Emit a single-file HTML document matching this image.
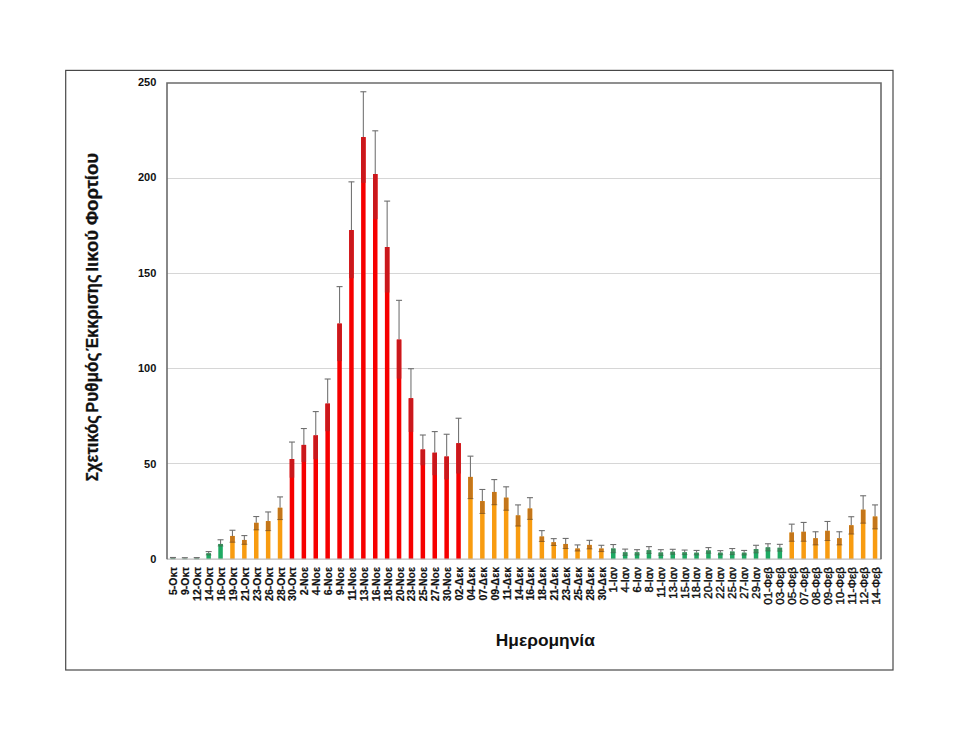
<!DOCTYPE html>
<html><head><meta charset="utf-8"><title>chart</title>
<style>
html,body{margin:0;padding:0;background:#fff;}
body{width:960px;height:742px;position:relative;overflow:hidden;font-family:"Liberation Sans",sans-serif;}
text{font-family:"Liberation Sans",sans-serif;fill:#111;}
.yt{font-size:11px;font-weight:bold;}
.xl{font-size:10.5px;font-weight:bold;stroke:#111;stroke-width:0.2px;}
.ian{font-size:11.3px;font-weight:normal;stroke:#111;stroke-width:0.45px;}
.feb{font-size:11px;font-weight:normal;stroke:#111;stroke-width:0.4px;}
.ytitle{font-size:17.5px;font-weight:bold;stroke:#111;stroke-width:0.3px;}
.cap{font-size:16.2px;}
.xtitle{font-size:16.6px;font-weight:bold;}
</style></head><body>
<svg width="960" height="742" viewBox="0 0 960 742" style="position:absolute;left:0;top:0">
<rect x="0" y="0" width="960" height="742" fill="#fff"/>
<rect x="65.7" y="70.4" width="827.3" height="599.6" fill="none" stroke="#484848" stroke-width="1.2"/>
<line x1="167.0" x2="881.0" y1="463.50" y2="463.50" stroke="#d6d6d6" stroke-width="1"/>
<line x1="167.0" x2="881.0" y1="368.50" y2="368.50" stroke="#d6d6d6" stroke-width="1"/>
<line x1="167.0" x2="881.0" y1="273.50" y2="273.50" stroke="#d6d6d6" stroke-width="1"/>
<line x1="167.0" x2="881.0" y1="178.50" y2="178.50" stroke="#d6d6d6" stroke-width="1"/>
<rect x="170.70" y="558.25" width="4.50" height="0.95" fill="#1faa63"/>
<rect x="170.70" y="558.25" width="4.50" height="0.57" fill="#3c8a5a"/>
<line x1="172.95" x2="172.95" y1="557.49" y2="558.25" stroke="#757575" stroke-width="1.1"/>
<line x1="169.95" x2="175.95" y1="557.49" y2="557.49" stroke="#6e6e6e" stroke-width="1.1"/>
<line x1="169.95" x2="175.95" y1="558.82" y2="558.82" stroke="rgba(60,70,60,0.35)" stroke-width="1"/>
<rect x="182.60" y="558.63" width="4.50" height="0.57" fill="#1faa63"/>
<rect x="182.60" y="558.63" width="4.50" height="0.38" fill="#3c8a5a"/>
<line x1="184.85" x2="184.85" y1="557.68" y2="558.63" stroke="#757575" stroke-width="1.1"/>
<line x1="181.85" x2="187.85" y1="557.68" y2="557.68" stroke="#6e6e6e" stroke-width="1.1"/>
<line x1="181.85" x2="187.85" y1="559.01" y2="559.01" stroke="rgba(60,70,60,0.35)" stroke-width="1"/>
<rect x="194.50" y="558.44" width="4.50" height="0.76" fill="#1faa63"/>
<rect x="194.50" y="558.44" width="4.50" height="0.57" fill="#3c8a5a"/>
<line x1="196.75" x2="196.75" y1="557.58" y2="558.44" stroke="#757575" stroke-width="1.1"/>
<line x1="193.75" x2="199.75" y1="557.58" y2="557.58" stroke="#6e6e6e" stroke-width="1.1"/>
<line x1="193.75" x2="199.75" y1="559.01" y2="559.01" stroke="rgba(60,70,60,0.35)" stroke-width="1"/>
<rect x="206.40" y="553.30" width="4.50" height="5.90" fill="#1faa63"/>
<rect x="206.40" y="553.30" width="4.50" height="1.71" fill="#3c8a5a"/>
<line x1="208.65" x2="208.65" y1="551.58" y2="553.30" stroke="#757575" stroke-width="1.1"/>
<line x1="205.65" x2="211.65" y1="551.58" y2="551.58" stroke="#6e6e6e" stroke-width="1.1"/>
<line x1="205.65" x2="211.65" y1="555.01" y2="555.01" stroke="rgba(60,70,60,0.35)" stroke-width="1"/>
<rect x="218.30" y="543.96" width="4.50" height="15.24" fill="#1faa63"/>
<rect x="218.30" y="543.96" width="4.50" height="2.10" fill="#3c8a5a"/>
<line x1="220.55" x2="220.55" y1="539.77" y2="543.96" stroke="#757575" stroke-width="1.1"/>
<line x1="217.55" x2="223.55" y1="539.77" y2="539.77" stroke="#6e6e6e" stroke-width="1.1"/>
<line x1="217.55" x2="223.55" y1="546.06" y2="546.06" stroke="rgba(60,70,60,0.35)" stroke-width="1"/>
<rect x="230.20" y="535.96" width="4.50" height="23.24" fill="#f89c10"/>
<rect x="230.20" y="535.96" width="4.50" height="6.29" fill="#c4761a"/>
<line x1="232.45" x2="232.45" y1="530.25" y2="535.96" stroke="#757575" stroke-width="1.1"/>
<line x1="229.45" x2="235.45" y1="530.25" y2="530.25" stroke="#6e6e6e" stroke-width="1.1"/>
<line x1="229.45" x2="235.45" y1="542.25" y2="542.25" stroke="rgba(90,60,30,0.55)" stroke-width="1"/>
<rect x="242.10" y="539.96" width="4.50" height="19.24" fill="#f89c10"/>
<rect x="242.10" y="539.96" width="4.50" height="4.38" fill="#c4761a"/>
<line x1="244.35" x2="244.35" y1="535.58" y2="539.96" stroke="#757575" stroke-width="1.1"/>
<line x1="241.35" x2="247.35" y1="535.58" y2="535.58" stroke="#6e6e6e" stroke-width="1.1"/>
<line x1="241.35" x2="247.35" y1="544.34" y2="544.34" stroke="rgba(90,60,30,0.55)" stroke-width="1"/>
<rect x="254.00" y="522.82" width="4.50" height="36.38" fill="#f89c10"/>
<rect x="254.00" y="522.82" width="4.50" height="7.05" fill="#c4761a"/>
<line x1="256.25" x2="256.25" y1="516.53" y2="522.82" stroke="#757575" stroke-width="1.1"/>
<line x1="253.25" x2="259.25" y1="516.53" y2="516.53" stroke="#6e6e6e" stroke-width="1.1"/>
<line x1="253.25" x2="259.25" y1="529.87" y2="529.87" stroke="rgba(90,60,30,0.55)" stroke-width="1"/>
<rect x="265.90" y="521.10" width="4.50" height="38.10" fill="#f89c10"/>
<rect x="265.90" y="521.10" width="4.50" height="9.52" fill="#c4761a"/>
<line x1="268.15" x2="268.15" y1="511.96" y2="521.10" stroke="#757575" stroke-width="1.1"/>
<line x1="265.15" x2="271.15" y1="511.96" y2="511.96" stroke="#6e6e6e" stroke-width="1.1"/>
<line x1="265.15" x2="271.15" y1="530.63" y2="530.63" stroke="rgba(90,60,30,0.55)" stroke-width="1"/>
<rect x="277.80" y="507.77" width="4.50" height="51.43" fill="#f89c10"/>
<rect x="277.80" y="507.77" width="4.50" height="11.81" fill="#c4761a"/>
<line x1="280.05" x2="280.05" y1="496.91" y2="507.77" stroke="#757575" stroke-width="1.1"/>
<line x1="277.05" x2="283.05" y1="496.91" y2="496.91" stroke="#6e6e6e" stroke-width="1.1"/>
<line x1="277.05" x2="283.05" y1="519.58" y2="519.58" stroke="rgba(90,60,30,0.55)" stroke-width="1"/>
<rect x="289.70" y="459.01" width="4.50" height="100.19" fill="#f60000"/>
<rect x="289.70" y="459.01" width="4.50" height="18.67" fill="#ca181c"/>
<line x1="291.95" x2="291.95" y1="442.05" y2="459.01" stroke="#757575" stroke-width="1.1"/>
<line x1="288.95" x2="294.95" y1="442.05" y2="442.05" stroke="#6e6e6e" stroke-width="1.1"/>
<rect x="301.60" y="444.91" width="4.50" height="114.29" fill="#f60000"/>
<rect x="301.60" y="444.91" width="4.50" height="17.14" fill="#ca181c"/>
<line x1="303.85" x2="303.85" y1="428.53" y2="444.91" stroke="#757575" stroke-width="1.1"/>
<line x1="300.85" x2="306.85" y1="428.53" y2="428.53" stroke="#6e6e6e" stroke-width="1.1"/>
<rect x="313.50" y="435.39" width="4.50" height="123.81" fill="#f60000"/>
<rect x="313.50" y="435.39" width="4.50" height="23.81" fill="#ca181c"/>
<line x1="315.75" x2="315.75" y1="411.58" y2="435.39" stroke="#757575" stroke-width="1.1"/>
<line x1="312.75" x2="318.75" y1="411.58" y2="411.58" stroke="#6e6e6e" stroke-width="1.1"/>
<rect x="325.40" y="403.58" width="4.50" height="155.62" fill="#f60000"/>
<rect x="325.40" y="403.58" width="4.50" height="27.62" fill="#ca181c"/>
<line x1="327.65" x2="327.65" y1="379.01" y2="403.58" stroke="#757575" stroke-width="1.1"/>
<line x1="324.65" x2="330.65" y1="379.01" y2="379.01" stroke="#6e6e6e" stroke-width="1.1"/>
<rect x="337.30" y="323.58" width="4.50" height="235.62" fill="#f60000"/>
<rect x="337.30" y="323.58" width="4.50" height="37.52" fill="#ca181c"/>
<line x1="339.55" x2="339.55" y1="286.62" y2="323.58" stroke="#757575" stroke-width="1.1"/>
<line x1="336.55" x2="342.55" y1="286.62" y2="286.62" stroke="#6e6e6e" stroke-width="1.1"/>
<rect x="349.20" y="230.05" width="4.50" height="329.15" fill="#f60000"/>
<rect x="349.20" y="230.05" width="4.50" height="48.19" fill="#ca181c"/>
<line x1="351.45" x2="351.45" y1="181.86" y2="230.05" stroke="#757575" stroke-width="1.1"/>
<line x1="348.45" x2="354.45" y1="181.86" y2="181.86" stroke="#6e6e6e" stroke-width="1.1"/>
<rect x="361.10" y="137.10" width="4.50" height="422.10" fill="#f60000"/>
<rect x="361.10" y="137.10" width="4.50" height="45.72" fill="#ca181c"/>
<line x1="363.35" x2="363.35" y1="91.76" y2="137.10" stroke="#757575" stroke-width="1.1"/>
<line x1="360.35" x2="366.35" y1="91.76" y2="91.76" stroke="#6e6e6e" stroke-width="1.1"/>
<rect x="373.00" y="174.05" width="4.50" height="385.15" fill="#f60000"/>
<rect x="373.00" y="174.05" width="4.50" height="45.14" fill="#ca181c"/>
<line x1="375.25" x2="375.25" y1="130.81" y2="174.05" stroke="#757575" stroke-width="1.1"/>
<line x1="372.25" x2="378.25" y1="130.81" y2="130.81" stroke="#6e6e6e" stroke-width="1.1"/>
<rect x="384.90" y="247.00" width="4.50" height="312.20" fill="#f60000"/>
<rect x="384.90" y="247.00" width="4.50" height="45.52" fill="#ca181c"/>
<line x1="387.15" x2="387.15" y1="201.10" y2="247.00" stroke="#757575" stroke-width="1.1"/>
<line x1="384.15" x2="390.15" y1="201.10" y2="201.10" stroke="#6e6e6e" stroke-width="1.1"/>
<rect x="396.80" y="339.58" width="4.50" height="219.62" fill="#f60000"/>
<rect x="396.80" y="339.58" width="4.50" height="39.05" fill="#ca181c"/>
<line x1="399.05" x2="399.05" y1="300.34" y2="339.58" stroke="#757575" stroke-width="1.1"/>
<line x1="396.05" x2="402.05" y1="300.34" y2="300.34" stroke="#6e6e6e" stroke-width="1.1"/>
<rect x="408.70" y="398.24" width="4.50" height="160.96" fill="#f60000"/>
<rect x="408.70" y="398.24" width="4.50" height="33.71" fill="#ca181c"/>
<line x1="410.95" x2="410.95" y1="368.72" y2="398.24" stroke="#757575" stroke-width="1.1"/>
<line x1="407.95" x2="413.95" y1="368.72" y2="368.72" stroke="#6e6e6e" stroke-width="1.1"/>
<rect x="420.60" y="449.48" width="4.50" height="109.72" fill="#f60000"/>
<rect x="420.60" y="449.48" width="4.50" height="15.81" fill="#ca181c"/>
<line x1="422.85" x2="422.85" y1="435.01" y2="449.48" stroke="#757575" stroke-width="1.1"/>
<line x1="419.85" x2="425.85" y1="435.01" y2="435.01" stroke="#6e6e6e" stroke-width="1.1"/>
<rect x="432.50" y="452.72" width="4.50" height="106.48" fill="#f60000"/>
<rect x="432.50" y="452.72" width="4.50" height="22.48" fill="#ca181c"/>
<line x1="434.75" x2="434.75" y1="431.58" y2="452.72" stroke="#757575" stroke-width="1.1"/>
<line x1="431.75" x2="437.75" y1="431.58" y2="431.58" stroke="#6e6e6e" stroke-width="1.1"/>
<rect x="444.40" y="456.53" width="4.50" height="102.67" fill="#f60000"/>
<rect x="444.40" y="456.53" width="4.50" height="22.86" fill="#ca181c"/>
<line x1="446.65" x2="446.65" y1="434.25" y2="456.53" stroke="#757575" stroke-width="1.1"/>
<line x1="443.65" x2="449.65" y1="434.25" y2="434.25" stroke="#6e6e6e" stroke-width="1.1"/>
<rect x="456.30" y="443.20" width="4.50" height="116.00" fill="#f60000"/>
<rect x="456.30" y="443.20" width="4.50" height="30.29" fill="#ca181c"/>
<line x1="458.55" x2="458.55" y1="418.24" y2="443.20" stroke="#757575" stroke-width="1.1"/>
<line x1="455.55" x2="461.55" y1="418.24" y2="418.24" stroke="#6e6e6e" stroke-width="1.1"/>
<rect x="468.20" y="476.91" width="4.50" height="82.29" fill="#f89c10"/>
<rect x="468.20" y="476.91" width="4.50" height="21.71" fill="#c4761a"/>
<line x1="470.45" x2="470.45" y1="456.15" y2="476.91" stroke="#757575" stroke-width="1.1"/>
<line x1="467.45" x2="473.45" y1="456.15" y2="456.15" stroke="#6e6e6e" stroke-width="1.1"/>
<line x1="467.45" x2="473.45" y1="498.63" y2="498.63" stroke="rgba(90,60,30,0.55)" stroke-width="1"/>
<rect x="480.10" y="501.10" width="4.50" height="58.10" fill="#f89c10"/>
<rect x="480.10" y="501.10" width="4.50" height="12.38" fill="#c4761a"/>
<line x1="482.35" x2="482.35" y1="489.48" y2="501.10" stroke="#757575" stroke-width="1.1"/>
<line x1="479.35" x2="485.35" y1="489.48" y2="489.48" stroke="#6e6e6e" stroke-width="1.1"/>
<line x1="479.35" x2="485.35" y1="513.48" y2="513.48" stroke="rgba(90,60,30,0.55)" stroke-width="1"/>
<rect x="492.00" y="491.96" width="4.50" height="67.24" fill="#f89c10"/>
<rect x="492.00" y="491.96" width="4.50" height="12.76" fill="#c4761a"/>
<line x1="494.25" x2="494.25" y1="479.58" y2="491.96" stroke="#757575" stroke-width="1.1"/>
<line x1="491.25" x2="497.25" y1="479.58" y2="479.58" stroke="#6e6e6e" stroke-width="1.1"/>
<line x1="491.25" x2="497.25" y1="504.72" y2="504.72" stroke="rgba(90,60,30,0.55)" stroke-width="1"/>
<rect x="503.90" y="497.67" width="4.50" height="61.53" fill="#f89c10"/>
<rect x="503.90" y="497.67" width="4.50" height="12.57" fill="#c4761a"/>
<line x1="506.15" x2="506.15" y1="486.82" y2="497.67" stroke="#757575" stroke-width="1.1"/>
<line x1="503.15" x2="509.15" y1="486.82" y2="486.82" stroke="#6e6e6e" stroke-width="1.1"/>
<line x1="503.15" x2="509.15" y1="510.25" y2="510.25" stroke="rgba(90,60,30,0.55)" stroke-width="1"/>
<rect x="515.80" y="515.39" width="4.50" height="43.81" fill="#f89c10"/>
<rect x="515.80" y="515.39" width="4.50" height="10.67" fill="#c4761a"/>
<line x1="518.05" x2="518.05" y1="504.91" y2="515.39" stroke="#757575" stroke-width="1.1"/>
<line x1="515.05" x2="521.05" y1="504.91" y2="504.91" stroke="#6e6e6e" stroke-width="1.1"/>
<line x1="515.05" x2="521.05" y1="526.06" y2="526.06" stroke="rgba(90,60,30,0.55)" stroke-width="1"/>
<rect x="527.70" y="508.53" width="4.50" height="50.67" fill="#f89c10"/>
<rect x="527.70" y="508.53" width="4.50" height="10.86" fill="#c4761a"/>
<line x1="529.95" x2="529.95" y1="497.67" y2="508.53" stroke="#757575" stroke-width="1.1"/>
<line x1="526.95" x2="532.95" y1="497.67" y2="497.67" stroke="#6e6e6e" stroke-width="1.1"/>
<line x1="526.95" x2="532.95" y1="519.39" y2="519.39" stroke="rgba(90,60,30,0.55)" stroke-width="1"/>
<rect x="539.60" y="536.53" width="4.50" height="22.67" fill="#f89c10"/>
<rect x="539.60" y="536.53" width="4.50" height="4.95" fill="#c4761a"/>
<line x1="541.85" x2="541.85" y1="530.63" y2="536.53" stroke="#757575" stroke-width="1.1"/>
<line x1="538.85" x2="544.85" y1="530.63" y2="530.63" stroke="#6e6e6e" stroke-width="1.1"/>
<line x1="538.85" x2="544.85" y1="541.49" y2="541.49" stroke="rgba(90,60,30,0.55)" stroke-width="1"/>
<rect x="551.50" y="542.25" width="4.50" height="16.95" fill="#f89c10"/>
<rect x="551.50" y="542.25" width="4.50" height="3.24" fill="#c4761a"/>
<line x1="553.75" x2="553.75" y1="538.63" y2="542.25" stroke="#757575" stroke-width="1.1"/>
<line x1="550.75" x2="556.75" y1="538.63" y2="538.63" stroke="#6e6e6e" stroke-width="1.1"/>
<line x1="550.75" x2="556.75" y1="545.49" y2="545.49" stroke="rgba(90,60,30,0.55)" stroke-width="1"/>
<rect x="563.40" y="543.96" width="4.50" height="15.24" fill="#f89c10"/>
<rect x="563.40" y="543.96" width="4.50" height="4.57" fill="#c4761a"/>
<line x1="565.65" x2="565.65" y1="538.44" y2="543.96" stroke="#757575" stroke-width="1.1"/>
<line x1="562.65" x2="568.65" y1="538.44" y2="538.44" stroke="#6e6e6e" stroke-width="1.1"/>
<line x1="562.65" x2="568.65" y1="548.53" y2="548.53" stroke="rgba(90,60,30,0.55)" stroke-width="1"/>
<rect x="575.30" y="548.53" width="4.50" height="10.67" fill="#f89c10"/>
<rect x="575.30" y="548.53" width="4.50" height="2.48" fill="#c4761a"/>
<line x1="577.55" x2="577.55" y1="544.91" y2="548.53" stroke="#757575" stroke-width="1.1"/>
<line x1="574.55" x2="580.55" y1="544.91" y2="544.91" stroke="#6e6e6e" stroke-width="1.1"/>
<line x1="574.55" x2="580.55" y1="551.01" y2="551.01" stroke="rgba(90,60,30,0.55)" stroke-width="1"/>
<rect x="587.20" y="544.91" width="4.50" height="14.29" fill="#f89c10"/>
<rect x="587.20" y="544.91" width="4.50" height="4.00" fill="#c4761a"/>
<line x1="589.45" x2="589.45" y1="540.34" y2="544.91" stroke="#757575" stroke-width="1.1"/>
<line x1="586.45" x2="592.45" y1="540.34" y2="540.34" stroke="#6e6e6e" stroke-width="1.1"/>
<line x1="586.45" x2="592.45" y1="548.91" y2="548.91" stroke="rgba(90,60,30,0.55)" stroke-width="1"/>
<rect x="599.10" y="548.53" width="4.50" height="10.67" fill="#f89c10"/>
<rect x="599.10" y="548.53" width="4.50" height="3.05" fill="#c4761a"/>
<line x1="601.35" x2="601.35" y1="545.29" y2="548.53" stroke="#757575" stroke-width="1.1"/>
<line x1="598.35" x2="604.35" y1="545.29" y2="545.29" stroke="#6e6e6e" stroke-width="1.1"/>
<line x1="598.35" x2="604.35" y1="551.58" y2="551.58" stroke="rgba(90,60,30,0.55)" stroke-width="1"/>
<rect x="611.00" y="548.53" width="4.50" height="10.67" fill="#1faa63"/>
<rect x="611.00" y="548.53" width="4.50" height="4.19" fill="#3c8a5a"/>
<line x1="613.25" x2="613.25" y1="544.53" y2="548.53" stroke="#757575" stroke-width="1.1"/>
<line x1="610.25" x2="616.25" y1="544.53" y2="544.53" stroke="#6e6e6e" stroke-width="1.1"/>
<line x1="610.25" x2="616.25" y1="552.72" y2="552.72" stroke="rgba(60,70,60,0.35)" stroke-width="1"/>
<rect x="622.90" y="552.34" width="4.50" height="6.86" fill="#1faa63"/>
<rect x="622.90" y="552.34" width="4.50" height="3.05" fill="#3c8a5a"/>
<line x1="625.15" x2="625.15" y1="549.10" y2="552.34" stroke="#757575" stroke-width="1.1"/>
<line x1="622.15" x2="628.15" y1="549.10" y2="549.10" stroke="#6e6e6e" stroke-width="1.1"/>
<line x1="622.15" x2="628.15" y1="555.39" y2="555.39" stroke="rgba(60,70,60,0.35)" stroke-width="1"/>
<rect x="634.80" y="552.34" width="4.50" height="6.86" fill="#1faa63"/>
<rect x="634.80" y="552.34" width="4.50" height="2.67" fill="#3c8a5a"/>
<line x1="637.05" x2="637.05" y1="549.68" y2="552.34" stroke="#757575" stroke-width="1.1"/>
<line x1="634.05" x2="640.05" y1="549.68" y2="549.68" stroke="#6e6e6e" stroke-width="1.1"/>
<line x1="634.05" x2="640.05" y1="555.01" y2="555.01" stroke="rgba(60,70,60,0.35)" stroke-width="1"/>
<rect x="646.70" y="550.25" width="4.50" height="8.95" fill="#1faa63"/>
<rect x="646.70" y="550.25" width="4.50" height="3.24" fill="#3c8a5a"/>
<line x1="648.95" x2="648.95" y1="546.63" y2="550.25" stroke="#757575" stroke-width="1.1"/>
<line x1="645.95" x2="651.95" y1="546.63" y2="546.63" stroke="#6e6e6e" stroke-width="1.1"/>
<line x1="645.95" x2="651.95" y1="553.49" y2="553.49" stroke="rgba(60,70,60,0.35)" stroke-width="1"/>
<rect x="658.60" y="552.53" width="4.50" height="6.67" fill="#1faa63"/>
<rect x="658.60" y="552.53" width="4.50" height="2.86" fill="#3c8a5a"/>
<line x1="660.85" x2="660.85" y1="549.68" y2="552.53" stroke="#757575" stroke-width="1.1"/>
<line x1="657.85" x2="663.85" y1="549.68" y2="549.68" stroke="#6e6e6e" stroke-width="1.1"/>
<line x1="657.85" x2="663.85" y1="555.39" y2="555.39" stroke="rgba(60,70,60,0.35)" stroke-width="1"/>
<rect x="670.50" y="551.77" width="4.50" height="7.43" fill="#1faa63"/>
<rect x="670.50" y="551.77" width="4.50" height="2.48" fill="#3c8a5a"/>
<line x1="672.75" x2="672.75" y1="549.30" y2="551.77" stroke="#757575" stroke-width="1.1"/>
<line x1="669.75" x2="675.75" y1="549.30" y2="549.30" stroke="#6e6e6e" stroke-width="1.1"/>
<line x1="669.75" x2="675.75" y1="554.25" y2="554.25" stroke="rgba(60,70,60,0.35)" stroke-width="1"/>
<rect x="682.40" y="552.34" width="4.50" height="6.86" fill="#1faa63"/>
<rect x="682.40" y="552.34" width="4.50" height="2.29" fill="#3c8a5a"/>
<line x1="684.65" x2="684.65" y1="550.06" y2="552.34" stroke="#757575" stroke-width="1.1"/>
<line x1="681.65" x2="687.65" y1="550.06" y2="550.06" stroke="#6e6e6e" stroke-width="1.1"/>
<line x1="681.65" x2="687.65" y1="554.63" y2="554.63" stroke="rgba(60,70,60,0.35)" stroke-width="1"/>
<rect x="694.30" y="552.72" width="4.50" height="6.48" fill="#1faa63"/>
<rect x="694.30" y="552.72" width="4.50" height="2.29" fill="#3c8a5a"/>
<line x1="696.55" x2="696.55" y1="550.44" y2="552.72" stroke="#757575" stroke-width="1.1"/>
<line x1="693.55" x2="699.55" y1="550.44" y2="550.44" stroke="#6e6e6e" stroke-width="1.1"/>
<line x1="693.55" x2="699.55" y1="555.01" y2="555.01" stroke="rgba(60,70,60,0.35)" stroke-width="1"/>
<rect x="706.20" y="550.44" width="4.50" height="8.76" fill="#1faa63"/>
<rect x="706.20" y="550.44" width="4.50" height="2.86" fill="#3c8a5a"/>
<line x1="708.45" x2="708.45" y1="547.58" y2="550.44" stroke="#757575" stroke-width="1.1"/>
<line x1="705.45" x2="711.45" y1="547.58" y2="547.58" stroke="#6e6e6e" stroke-width="1.1"/>
<line x1="705.45" x2="711.45" y1="553.30" y2="553.30" stroke="rgba(60,70,60,0.35)" stroke-width="1"/>
<rect x="718.10" y="552.72" width="4.50" height="6.48" fill="#1faa63"/>
<rect x="718.10" y="552.72" width="4.50" height="2.10" fill="#3c8a5a"/>
<line x1="720.35" x2="720.35" y1="550.63" y2="552.72" stroke="#757575" stroke-width="1.1"/>
<line x1="717.35" x2="723.35" y1="550.63" y2="550.63" stroke="#6e6e6e" stroke-width="1.1"/>
<line x1="717.35" x2="723.35" y1="554.82" y2="554.82" stroke="rgba(60,70,60,0.35)" stroke-width="1"/>
<rect x="730.00" y="551.58" width="4.50" height="7.62" fill="#1faa63"/>
<rect x="730.00" y="551.58" width="4.50" height="3.05" fill="#3c8a5a"/>
<line x1="732.25" x2="732.25" y1="548.53" y2="551.58" stroke="#757575" stroke-width="1.1"/>
<line x1="729.25" x2="735.25" y1="548.53" y2="548.53" stroke="#6e6e6e" stroke-width="1.1"/>
<line x1="729.25" x2="735.25" y1="554.63" y2="554.63" stroke="rgba(60,70,60,0.35)" stroke-width="1"/>
<rect x="741.90" y="552.72" width="4.50" height="6.48" fill="#1faa63"/>
<rect x="741.90" y="552.72" width="4.50" height="2.29" fill="#3c8a5a"/>
<line x1="744.15" x2="744.15" y1="550.44" y2="552.72" stroke="#757575" stroke-width="1.1"/>
<line x1="741.15" x2="747.15" y1="550.44" y2="550.44" stroke="#6e6e6e" stroke-width="1.1"/>
<line x1="741.15" x2="747.15" y1="555.01" y2="555.01" stroke="rgba(60,70,60,0.35)" stroke-width="1"/>
<rect x="753.80" y="549.10" width="4.50" height="10.10" fill="#1faa63"/>
<rect x="753.80" y="549.10" width="4.50" height="3.81" fill="#3c8a5a"/>
<line x1="756.05" x2="756.05" y1="545.29" y2="549.10" stroke="#757575" stroke-width="1.1"/>
<line x1="753.05" x2="759.05" y1="545.29" y2="545.29" stroke="#6e6e6e" stroke-width="1.1"/>
<line x1="753.05" x2="759.05" y1="552.91" y2="552.91" stroke="rgba(60,70,60,0.35)" stroke-width="1"/>
<rect x="765.70" y="547.39" width="4.50" height="11.81" fill="#1faa63"/>
<rect x="765.70" y="547.39" width="4.50" height="3.62" fill="#3c8a5a"/>
<line x1="767.95" x2="767.95" y1="543.77" y2="547.39" stroke="#757575" stroke-width="1.1"/>
<line x1="764.95" x2="770.95" y1="543.77" y2="543.77" stroke="#6e6e6e" stroke-width="1.1"/>
<line x1="764.95" x2="770.95" y1="551.01" y2="551.01" stroke="rgba(60,70,60,0.35)" stroke-width="1"/>
<rect x="777.60" y="547.77" width="4.50" height="11.43" fill="#1faa63"/>
<rect x="777.60" y="547.77" width="4.50" height="3.43" fill="#3c8a5a"/>
<line x1="779.85" x2="779.85" y1="544.34" y2="547.77" stroke="#757575" stroke-width="1.1"/>
<line x1="776.85" x2="782.85" y1="544.34" y2="544.34" stroke="#6e6e6e" stroke-width="1.1"/>
<line x1="776.85" x2="782.85" y1="551.20" y2="551.20" stroke="rgba(60,70,60,0.35)" stroke-width="1"/>
<rect x="789.50" y="532.53" width="4.50" height="26.67" fill="#f89c10"/>
<rect x="789.50" y="532.53" width="4.50" height="8.76" fill="#c4761a"/>
<line x1="791.75" x2="791.75" y1="524.15" y2="532.53" stroke="#757575" stroke-width="1.1"/>
<line x1="788.75" x2="794.75" y1="524.15" y2="524.15" stroke="#6e6e6e" stroke-width="1.1"/>
<line x1="788.75" x2="794.75" y1="541.29" y2="541.29" stroke="rgba(90,60,30,0.55)" stroke-width="1"/>
<rect x="801.40" y="531.77" width="4.50" height="27.43" fill="#f89c10"/>
<rect x="801.40" y="531.77" width="4.50" height="9.52" fill="#c4761a"/>
<line x1="803.65" x2="803.65" y1="522.44" y2="531.77" stroke="#757575" stroke-width="1.1"/>
<line x1="800.65" x2="806.65" y1="522.44" y2="522.44" stroke="#6e6e6e" stroke-width="1.1"/>
<line x1="800.65" x2="806.65" y1="541.29" y2="541.29" stroke="rgba(90,60,30,0.55)" stroke-width="1"/>
<rect x="813.30" y="538.25" width="4.50" height="20.95" fill="#f89c10"/>
<rect x="813.30" y="538.25" width="4.50" height="6.67" fill="#c4761a"/>
<line x1="815.55" x2="815.55" y1="531.77" y2="538.25" stroke="#757575" stroke-width="1.1"/>
<line x1="812.55" x2="818.55" y1="531.77" y2="531.77" stroke="#6e6e6e" stroke-width="1.1"/>
<line x1="812.55" x2="818.55" y1="544.91" y2="544.91" stroke="rgba(90,60,30,0.55)" stroke-width="1"/>
<rect x="825.20" y="530.82" width="4.50" height="28.38" fill="#f89c10"/>
<rect x="825.20" y="530.82" width="4.50" height="9.71" fill="#c4761a"/>
<line x1="827.45" x2="827.45" y1="521.48" y2="530.82" stroke="#757575" stroke-width="1.1"/>
<line x1="824.45" x2="830.45" y1="521.48" y2="521.48" stroke="#6e6e6e" stroke-width="1.1"/>
<line x1="824.45" x2="830.45" y1="540.53" y2="540.53" stroke="rgba(90,60,30,0.55)" stroke-width="1"/>
<rect x="837.10" y="538.25" width="4.50" height="20.95" fill="#f89c10"/>
<rect x="837.10" y="538.25" width="4.50" height="6.67" fill="#c4761a"/>
<line x1="839.35" x2="839.35" y1="531.77" y2="538.25" stroke="#757575" stroke-width="1.1"/>
<line x1="836.35" x2="842.35" y1="531.77" y2="531.77" stroke="#6e6e6e" stroke-width="1.1"/>
<line x1="836.35" x2="842.35" y1="544.91" y2="544.91" stroke="rgba(90,60,30,0.55)" stroke-width="1"/>
<rect x="849.00" y="525.29" width="4.50" height="33.91" fill="#f89c10"/>
<rect x="849.00" y="525.29" width="4.50" height="8.76" fill="#c4761a"/>
<line x1="851.25" x2="851.25" y1="516.72" y2="525.29" stroke="#757575" stroke-width="1.1"/>
<line x1="848.25" x2="854.25" y1="516.72" y2="516.72" stroke="#6e6e6e" stroke-width="1.1"/>
<line x1="848.25" x2="854.25" y1="534.06" y2="534.06" stroke="rgba(90,60,30,0.55)" stroke-width="1"/>
<rect x="860.90" y="509.68" width="4.50" height="49.52" fill="#f89c10"/>
<rect x="860.90" y="509.68" width="4.50" height="13.52" fill="#c4761a"/>
<line x1="863.15" x2="863.15" y1="495.77" y2="509.68" stroke="#757575" stroke-width="1.1"/>
<line x1="860.15" x2="866.15" y1="495.77" y2="495.77" stroke="#6e6e6e" stroke-width="1.1"/>
<line x1="860.15" x2="866.15" y1="523.20" y2="523.20" stroke="rgba(90,60,30,0.55)" stroke-width="1"/>
<rect x="872.80" y="516.53" width="4.50" height="42.67" fill="#f89c10"/>
<rect x="872.80" y="516.53" width="4.50" height="12.38" fill="#c4761a"/>
<line x1="875.05" x2="875.05" y1="504.91" y2="516.53" stroke="#757575" stroke-width="1.1"/>
<line x1="872.05" x2="878.05" y1="504.91" y2="504.91" stroke="#6e6e6e" stroke-width="1.1"/>
<line x1="872.05" x2="878.05" y1="528.91" y2="528.91" stroke="rgba(90,60,30,0.55)" stroke-width="1"/>
<line x1="167.0" x2="881.0" y1="559.20" y2="559.20" stroke="#bdbdbd" stroke-width="1.2"/>
<path d="M167.0 559.2 L167.0 83.0 L881.0 83.0 L881.0 559.2" fill="none" stroke="#6b6b6b" stroke-width="1.6"/>
<text x="156.3" y="562.70" text-anchor="end" class="yt">0</text>
<text x="156.3" y="468.26" text-anchor="end" class="yt">50</text>
<text x="156.3" y="372.32" text-anchor="end" class="yt">100</text>
<text x="156.3" y="276.98" text-anchor="end" class="yt">150</text>
<text x="156.3" y="181.14" text-anchor="end" class="yt">200</text>
<text x="156.3" y="85.60" text-anchor="end" class="yt">250</text>
<text transform="translate(177.45,567.00) rotate(-90)" text-anchor="end" class="xl">5-Οκτ</text>
<text transform="translate(189.35,567.00) rotate(-90)" text-anchor="end" class="xl">9-Οκτ</text>
<text transform="translate(201.25,567.00) rotate(-90)" text-anchor="end" class="xl">12-Οκτ</text>
<text transform="translate(213.15,567.00) rotate(-90)" text-anchor="end" class="xl">14-Οκτ</text>
<text transform="translate(225.05,567.00) rotate(-90)" text-anchor="end" class="xl">16-Οκτ</text>
<text transform="translate(236.95,567.00) rotate(-90)" text-anchor="end" class="xl">19-Οκτ</text>
<text transform="translate(248.85,567.00) rotate(-90)" text-anchor="end" class="xl">21-Οκτ</text>
<text transform="translate(260.75,567.00) rotate(-90)" text-anchor="end" class="xl">23-Οκτ</text>
<text transform="translate(272.65,567.00) rotate(-90)" text-anchor="end" class="xl">26-Οκτ</text>
<text transform="translate(284.55,567.00) rotate(-90)" text-anchor="end" class="xl">28-Οκτ</text>
<text transform="translate(296.45,567.00) rotate(-90)" text-anchor="end" class="xl">30-Οκτ</text>
<text transform="translate(308.35,567.00) rotate(-90)" text-anchor="end" class="xl">2-Νοε</text>
<text transform="translate(320.25,567.00) rotate(-90)" text-anchor="end" class="xl">4-Νοε</text>
<text transform="translate(332.15,567.00) rotate(-90)" text-anchor="end" class="xl">6-Νοε</text>
<text transform="translate(344.05,567.00) rotate(-90)" text-anchor="end" class="xl">9-Νοε</text>
<text transform="translate(355.95,567.00) rotate(-90)" text-anchor="end" class="xl">11-Νοε</text>
<text transform="translate(367.85,567.00) rotate(-90)" text-anchor="end" class="xl">13-Νοε</text>
<text transform="translate(379.75,567.00) rotate(-90)" text-anchor="end" class="xl">16-Νοε</text>
<text transform="translate(391.65,567.00) rotate(-90)" text-anchor="end" class="xl">18-Νοε</text>
<text transform="translate(403.55,567.00) rotate(-90)" text-anchor="end" class="xl">20-Νοε</text>
<text transform="translate(415.45,567.00) rotate(-90)" text-anchor="end" class="xl">23-Νοε</text>
<text transform="translate(427.35,567.00) rotate(-90)" text-anchor="end" class="xl">25-Νοε</text>
<text transform="translate(439.25,567.00) rotate(-90)" text-anchor="end" class="xl">27-Νοε</text>
<text transform="translate(451.15,567.00) rotate(-90)" text-anchor="end" class="xl">30-Νοε</text>
<text transform="translate(463.05,567.00) rotate(-90)" text-anchor="end" class="xl">02-Δεκ</text>
<text transform="translate(474.95,567.00) rotate(-90)" text-anchor="end" class="xl">04-Δεκ</text>
<text transform="translate(486.85,567.00) rotate(-90)" text-anchor="end" class="xl">07-Δεκ</text>
<text transform="translate(498.75,567.00) rotate(-90)" text-anchor="end" class="xl">09-Δεκ</text>
<text transform="translate(510.65,567.00) rotate(-90)" text-anchor="end" class="xl">11-Δεκ</text>
<text transform="translate(522.55,567.00) rotate(-90)" text-anchor="end" class="xl">14-Δεκ</text>
<text transform="translate(534.45,567.00) rotate(-90)" text-anchor="end" class="xl">16-Δεκ</text>
<text transform="translate(546.35,567.00) rotate(-90)" text-anchor="end" class="xl">18-Δεκ</text>
<text transform="translate(558.25,567.00) rotate(-90)" text-anchor="end" class="xl">21-Δεκ</text>
<text transform="translate(570.15,567.00) rotate(-90)" text-anchor="end" class="xl">23-Δεκ</text>
<text transform="translate(582.05,567.00) rotate(-90)" text-anchor="end" class="xl">25-Δεκ</text>
<text transform="translate(593.95,567.00) rotate(-90)" text-anchor="end" class="xl">28-Δεκ</text>
<text transform="translate(605.85,567.00) rotate(-90)" text-anchor="end" class="xl">30-Δεκ</text>
<text transform="translate(617.15,567.00) rotate(-90)" text-anchor="end" class="xl ian">1-Ιαν</text>
<text transform="translate(629.05,567.00) rotate(-90)" text-anchor="end" class="xl ian">4-Ιαν</text>
<text transform="translate(640.95,567.00) rotate(-90)" text-anchor="end" class="xl ian">6-Ιαν</text>
<text transform="translate(652.85,567.00) rotate(-90)" text-anchor="end" class="xl ian">8-Ιαν</text>
<text transform="translate(664.75,567.00) rotate(-90)" text-anchor="end" class="xl ian">11-Ιαν</text>
<text transform="translate(676.65,567.00) rotate(-90)" text-anchor="end" class="xl ian">13-Ιαν</text>
<text transform="translate(688.55,567.00) rotate(-90)" text-anchor="end" class="xl ian">15-Ιαν</text>
<text transform="translate(700.45,567.00) rotate(-90)" text-anchor="end" class="xl ian">18-Ιαν</text>
<text transform="translate(712.35,567.00) rotate(-90)" text-anchor="end" class="xl ian">20-Ιαν</text>
<text transform="translate(724.25,567.00) rotate(-90)" text-anchor="end" class="xl ian">22-Ιαν</text>
<text transform="translate(736.15,567.00) rotate(-90)" text-anchor="end" class="xl ian">25-Ιαν</text>
<text transform="translate(748.05,567.00) rotate(-90)" text-anchor="end" class="xl ian">27-Ιαν</text>
<text transform="translate(759.95,567.00) rotate(-90)" text-anchor="end" class="xl ian">29-Ιαν</text>
<text transform="translate(772.45,567.00) rotate(-90)" text-anchor="end" class="xl feb" textLength="37.8" lengthAdjust="spacingAndGlyphs">01-Φεβ</text>
<text transform="translate(784.35,567.00) rotate(-90)" text-anchor="end" class="xl feb" textLength="37.8" lengthAdjust="spacingAndGlyphs">03-Φεβ</text>
<text transform="translate(796.25,567.00) rotate(-90)" text-anchor="end" class="xl feb" textLength="37.8" lengthAdjust="spacingAndGlyphs">05-Φεβ</text>
<text transform="translate(808.15,567.00) rotate(-90)" text-anchor="end" class="xl feb" textLength="37.8" lengthAdjust="spacingAndGlyphs">07-Φεβ</text>
<text transform="translate(820.05,567.00) rotate(-90)" text-anchor="end" class="xl feb" textLength="37.8" lengthAdjust="spacingAndGlyphs">08-Φεβ</text>
<text transform="translate(831.95,567.00) rotate(-90)" text-anchor="end" class="xl feb" textLength="37.8" lengthAdjust="spacingAndGlyphs">09-Φεβ</text>
<text transform="translate(843.85,567.00) rotate(-90)" text-anchor="end" class="xl feb" textLength="37.8" lengthAdjust="spacingAndGlyphs">10-Φεβ</text>
<text transform="translate(855.75,567.00) rotate(-90)" text-anchor="end" class="xl feb" textLength="37.8" lengthAdjust="spacingAndGlyphs">11-Φεβ</text>
<text transform="translate(867.65,567.00) rotate(-90)" text-anchor="end" class="xl feb" textLength="37.8" lengthAdjust="spacingAndGlyphs">12-Φεβ</text>
<text transform="translate(879.55,567.00) rotate(-90)" text-anchor="end" class="xl feb" textLength="37.8" lengthAdjust="spacingAndGlyphs">14-Φεβ</text>
<text transform="translate(97.9,481.20) rotate(-90)" class="ytitle" textLength="66.10" lengthAdjust="spacingAndGlyphs"><tspan class="cap">Σ</tspan>χετικός</text>
<text transform="translate(97.9,412.40) rotate(-90)" class="ytitle" textLength="59.90" lengthAdjust="spacingAndGlyphs"><tspan class="cap">Ρ</tspan>υθμός</text>
<text transform="translate(97.9,351.00) rotate(-90)" class="ytitle" textLength="76.60" lengthAdjust="spacingAndGlyphs"><tspan class="cap">Έ</tspan>κκρισης</text>
<text transform="translate(97.9,271.70) rotate(-90)" class="ytitle" textLength="41.80" lengthAdjust="spacingAndGlyphs"><tspan class="cap">Ι</tspan>ικού</text>
<text transform="translate(97.9,225.10) rotate(-90)" class="ytitle" textLength="72.20" lengthAdjust="spacingAndGlyphs"><tspan class="cap">Φ</tspan>ορτίου</text>
<text x="495.8" y="646.4" class="xtitle" textLength="99" lengthAdjust="spacingAndGlyphs">Ημερομηνία</text>
</svg>
</body></html>
